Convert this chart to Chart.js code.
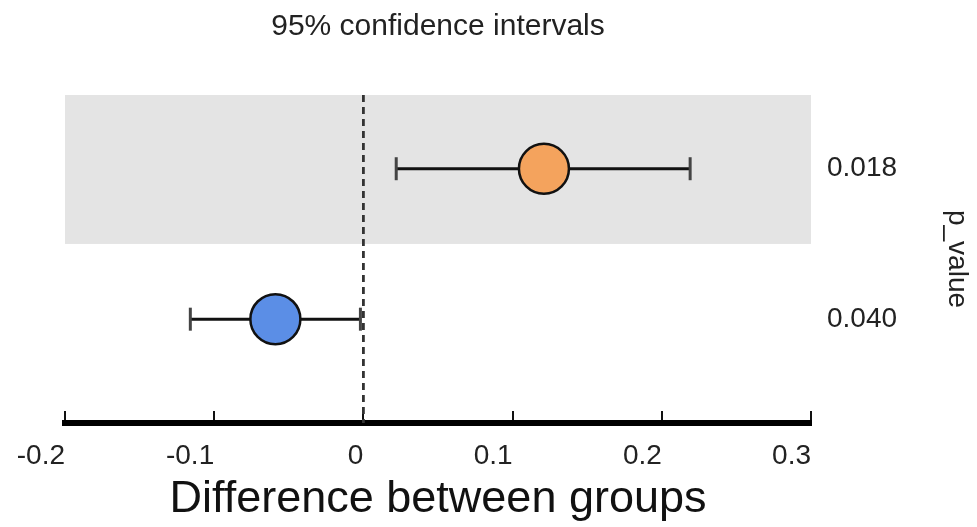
<!DOCTYPE html>
<html>
<head>
<meta charset="utf-8">
<script src="https://cdn.jsdelivr.net/npm/chart.js@4/dist/chart.umd.min.js"></script>
<style>
  html, body { margin: 0; padding: 0; background: #fff; }
  #wrap { width: 977px; height: 527px; }
</style>
</head>
<body>
<div id="wrap"><canvas id="myChart" width="977" height="527"></canvas></div>
<script>
// rows from bottom to top
const pValues = ['0.040', '0.018'];
const estimates = [-0.059, 0.121];
const ciLow = [-0.116, 0.022];
const ciHigh = [-0.002, 0.219];
const pointColors = ['#5b8ee6', '#f4a35d'];
const shadedRows = [1];
const xTicks = [-0.2, -0.1, 0, 0.1, 0.2, 0.3];

const rowIdx = pValues.map((p, i) => i);
const fontFamily = '"Liberation Sans", Arial, sans-serif';

// shaded row band + dashed zero line, drawn behind the marks
const backdrop = {
    id: 'backdrop',
    beforeDatasetsDraw(chart) {
        const {ctx, chartArea, scales} = chart;
        ctx.save();
        ctx.fillStyle = '#e4e4e4';
        shadedRows.forEach(r => {
            const top = Math.max(scales.y.getPixelForValue(r + 0.5), chartArea.top);
            const bottom = scales.y.getPixelForValue(r - 0.5);
            ctx.fillRect(chartArea.left, top, chartArea.right - chartArea.left, bottom - top);
        });
        const x0 = scales.x.getPixelForValue(0);
        ctx.strokeStyle = '#333';
        ctx.lineWidth = 2.8;
        ctx.setLineDash([7, 5]);
        ctx.beginPath();
        ctx.moveTo(x0, chartArea.top);
        ctx.lineTo(x0, chartArea.bottom);
        ctx.stroke();
        ctx.restore();
    }
};

const datasets = [{
    label: 'estimate',
    data: rowIdx.map(i => ({x: estimates[i], y: i})),
    pointRadius: 25,
    pointHoverRadius: 25,
    pointBackgroundColor: pointColors,
    pointBorderColor: '#111',
    pointBorderWidth: 2.5
}];
rowIdx.forEach(i => {
    datasets.push({
        label: 'ci ' + pValues[i],
        data: [{x: ciLow[i], y: i}, {x: ciHigh[i], y: i}],
        showLine: true,
        borderColor: '#111',
        borderWidth: 3,
        pointStyle: 'line',
        rotation: 90,
        pointRadius: 11.5,
        pointHoverRadius: 11.5,
        pointBorderColor: '#444',
        pointBorderWidth: 3
    });
});

const ctx = document.getElementById('myChart');
new Chart(ctx, {
    type: 'scatter',
    data: { datasets: datasets },
    options: {
        responsive: false,
        animation: false,
        devicePixelRatio: 1,
        layout: { padding: { left: 65, right: 0, top: 0, bottom: 0 } },
        plugins: {
            legend: { display: false },
            tooltip: { enabled: false },
            title: {
                display: true,
                text: '95% confidence intervals',
                fullSize: false,
                color: '#222',
                font: { family: fontFamily, size: 30, weight: 'normal' },
                padding: { top: 9, bottom: 50 }
            }
        },
        scales: {
            x: {
                type: 'linear',
                min: -0.2,
                max: 0.3,
                afterBuildTicks: (scale) => { scale.ticks = xTicks.map(v => ({value: v})); },
                afterFit: (scale) => {
                    scale.height = 104;
                    scale.paddingLeft = 0;
                    scale.paddingRight = 0;
                },
                grid: {
                    drawOnChartArea: false,
                    drawTicks: true,
                    tickLength: -12,
                    color: '#111',
                    lineWidth: 2
                },
                border: { display: true, color: '#000', width: 6 },
                ticks: {
                    align: 'end',
                    padding: 28,
                    maxRotation: 0,
                    autoSkip: false,
                    color: '#222',
                    font: { family: fontFamily, size: 28 },
                    callback: (v) => String(Math.round(v * 10) / 10)
                },
                title: {
                    display: true,
                    text: 'Difference between groups',
                    color: '#111',
                    font: { family: fontFamily, size: 45 },
                    padding: { top: 0, bottom: 0 }
                }
            },
            y: {
                type: 'linear',
                position: 'right',
                min: -0.69,
                max: 1.49,
                afterBuildTicks: (scale) => { scale.ticks = rowIdx.map(v => ({value: v})); },
                afterFit: (scale) => { scale.width = 166; },
                grid: { display: false, drawTicks: false },
                border: { display: false },
                ticks: {
                    padding: 16,
                    color: '#222',
                    font: { family: fontFamily, size: 28 },
                    callback: (v) => pValues[rowIdx.indexOf(v)]
                },
                title: {
                    display: true,
                    text: 'p_value',
                    color: '#222',
                    font: { family: fontFamily, size: 28 },
                    padding: { top: 3, bottom: 0 }
                }
            }
        }
    },
    plugins: [backdrop]
});
</script>
</body>
</html>
